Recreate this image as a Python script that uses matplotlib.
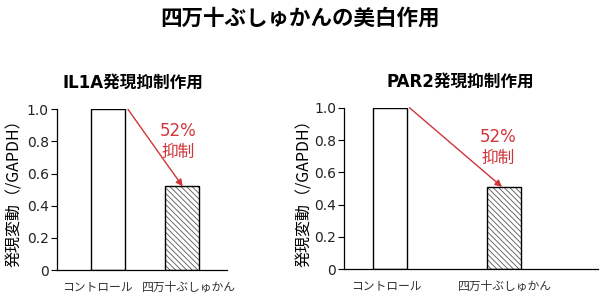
import matplotlib
matplotlib.use("Agg")
import matplotlib.pyplot as plt
import matplotlib.transforms as mtransforms

plt.rcParams['font.family'] = ['DejaVu Sans', 'Noto Sans CJK JP']
plt.rcParams['hatch.linewidth'] = 0.6

categories = ["コントロール", "四万十ぶしゅかん"]
il1a_values = [1.0, 0.52]
par2_values = [1.0, 0.51]
yticks = [0, 0.2, 0.4, 0.6, 0.8, 1.0]
ytick_labels = ["0", "0.2", "0.4", "0.6", "0.8", "1.0"]
suppression_label = "52%\n抑制"
main_title = "四万十ぶしゅかんの美白作用"
panel_titles = ["IL1A発現抑制作用", "PAR2発現抑制作用"]
ylabel = "発現変動（/GAPDH）"

red = "#d0353a"
fig = plt.figure(figsize=(6.0, 3.03), dpi=100)

fig.text(0.5, 1 - 18 / 303, main_title, ha='center', va='center',
         fontsize=15.5, fontweight='bold', family=['Noto Sans CJK JP'])

specs = [
    dict(rect=[57 / 600, 1 - 270 / 303, 170 / 600, 160.7 / 303], vals=il1a_values,
         xlim=(-0.69, 1.61), width=0.46, title_xy=(133, 83),
         arrow=((0.27, 1.0), (1.01, 0.52)), txt=(0.95, 0.80), ylab_x=15,
         label_shift=(-11, 7)),
    dict(rect=[344.3 / 600, 1 - 269.3 / 303, 253.7 / 600, 161.6 / 303], vals=par2_values,
         xlim=(-0.40, 1.82), width=0.30, title_xy=(460, 82),
         arrow=((0.17, 1.0), (0.98, 0.51)), txt=(0.946, 0.755), ylab_x=305,
         label_shift=(-4, 1)),
]

for spec, title in zip(specs, panel_titles):
    ax = fig.add_axes(spec['rect'])
    x = list(range(len(categories)))
    ax.bar(x[0], spec['vals'][0], width=spec['width'], color='white',
           edgecolor='black', linewidth=1.0)
    ax.bar(x[1], spec['vals'][1], width=spec['width'], color='white',
           edgecolor='#555555', linewidth=0, hatch='\\\\\\\\\\\\')
    ax.bar(x[1], spec['vals'][1], width=spec['width'], color='none',
           edgecolor='black', linewidth=1.0)
    ax.set_xlim(*spec['xlim'])
    ax.set_ylim(0, 1.0)
    ax.set_yticks(yticks)
    ax.set_yticklabels(ytick_labels, fontsize=10, color='#222222')
    ax.set_xticks([])
    base = mtransforms.blended_transform_factory(ax.transData, ax.transAxes)
    for xi, cat, dx in zip(x, categories, spec['label_shift']):
        tr = base + mtransforms.ScaledTranslation(dx / 100, -17 / 100, fig.dpi_scale_trans)
        ax.text(xi, 0, cat, transform=tr, ha='center', va='center',
                fontsize=8.5, color='#333333', family=['Noto Sans CJK JP'])
    ax.tick_params(axis='y', length=4, width=0.8, pad=2, direction='out')
    for s in ['top', 'right']:
        ax.spines[s].set_visible(False)
    for s in ['left', 'bottom']:
        ax.spines[s].set_linewidth(0.9)
    (x0, y0), (x1, y1) = spec['arrow']
    ax.annotate("", xy=(x1, y1), xytext=(x0, y0),
                arrowprops=dict(arrowstyle='-|>', color=red, lw=1.0,
                                mutation_scale=10, shrinkA=0, shrinkB=0))
    ax.text(spec['txt'][0], spec['txt'][1], suppression_label, ha='center',
            va='center', color=red, fontsize=12, linespacing=1.25,
            family=['DejaVu Sans', 'Noto Sans CJK JP'])
    fig.text(spec['title_xy'][0] / 600, 1 - spec['title_xy'][1] / 303, title,
             ha='center', va='center', fontsize=12, fontweight='bold')
    fig.text(spec['ylab_x'] / 600, 1 - 189 / 303, ylabel, rotation=90,
             ha='center', va='center', fontsize=11.5,
             family=['Noto Sans CJK JP'])

fig.savefig("out.png", dpi=100)
